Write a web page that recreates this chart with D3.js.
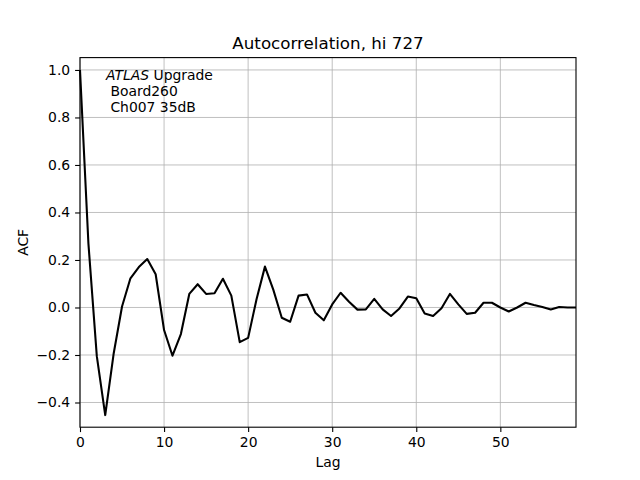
<!DOCTYPE html>
<html>
<head>
<meta charset="utf-8">
<script src="https://cdn.jsdelivr.net/npm/d3@7"></script>
<style>
  body { margin: 0; background: #fff; }
  text { font-family: "DejaVu Sans", sans-serif; }
</style>
</head>
<body>
<div id="chart"></div>
<script>
// ACF values, lag 0..59
const lags = d3.range(0, 60);
const acf = [
  1.0, 0.27, -0.205, -0.453, -0.195, 0.004, 0.123, 0.17, 0.204, 0.14,
  -0.095, -0.203, -0.112, 0.057, 0.098, 0.057, 0.06, 0.121, 0.05, -0.146,
  -0.128, 0.035, 0.172, 0.074, -0.043, -0.06, 0.05, 0.055, -0.022, -0.054,
  0.013, 0.062, 0.024, -0.009, -0.008, 0.036, -0.008, -0.036, -0.004, 0.046,
  0.039, -0.025, -0.036, -0.003, 0.057, 0.013, -0.027, -0.022, 0.02, 0.02,
  0.0, -0.017, 0.0, 0.02, 0.01, 0.002, -0.008, 0.002, 0.0, 0.0
];
const xTicks = [0, 10, 20, 30, 40, 50];
const yTicks = [-0.4, -0.2, 0.0, 0.2, 0.4, 0.6, 0.8, 1.0];

const margin = { top: 57.6, right: 64, bottom: 52.8, left: 80 },
      width = 640 - margin.left - margin.right,
      height = 480 - margin.top - margin.bottom;

const svg = d3.select("#chart")
    .append("svg")
    .attr("width", 640)
    .attr("height", 480);

const g = svg.append("g")
    .attr("transform", `translate(${margin.left},${margin.top})`);

const x = d3.scaleLinear().domain([0, 59]).range([0, width]);
const y = d3.scaleLinear().domain([-0.504, 1.052]).range([height, 0]);

// grid
g.append("g").selectAll("line")
    .data(xTicks)
    .enter().append("line")
    .attr("x1", d => x(d)).attr("x2", d => x(d))
    .attr("y1", 0).attr("y2", height)
    .attr("stroke", "#b0b0b0").attr("stroke-width", 0.8);

g.append("g").selectAll("line")
    .data(yTicks)
    .enter().append("line")
    .attr("y1", d => y(d)).attr("y2", d => y(d))
    .attr("x1", 0).attr("x2", width)
    .attr("stroke", "#b0b0b0").attr("stroke-width", 0.8);

// line
const line = d3.line()
    .x((d, i) => x(lags[i]))
    .y(d => y(d));

g.append("path")
    .datum(acf)
    .attr("fill", "none")
    .attr("stroke", "black")
    .attr("stroke-width", 2.08)
    .attr("stroke-linejoin", "round")
    .attr("d", line);

// axes
const fmt = d => d3.format(".1f")(d).replace("-", "\u2212");

const xAxis = g.append("g")
    .attr("transform", `translate(0,${height})`)
    .call(d3.axisBottom(x).tickValues(xTicks).tickSize(4.9).tickPadding(4.9).tickFormat(d3.format("d")));

const yAxis = g.append("g")
    .call(d3.axisLeft(y).tickValues(yTicks).tickSize(4.9).tickPadding(4.9).tickFormat(fmt));

[xAxis, yAxis].forEach(a => {
    a.select(".domain").remove();
    a.selectAll("text").attr("font-size", 13.9).attr("fill", "black")
        .attr("font-family", "DejaVu Sans, sans-serif");
    a.selectAll("line").attr("stroke", "black").attr("stroke-width", 1.1);
});

// frame
g.append("rect")
    .attr("width", width).attr("height", height)
    .attr("fill", "none").attr("stroke", "black").attr("stroke-width", 1.1);

// labels
svg.append("text")
    .attr("x", margin.left + width / 2).attr("y", 49.3)
    .attr("text-anchor", "middle").attr("font-size", 16.7)
    .text("Autocorrelation, hi 727");

svg.append("text")
    .attr("x", margin.left + width / 2).attr("y", 467)
    .attr("text-anchor", "middle").attr("font-size", 13.9)
    .text("Lag");

svg.append("text")
    .attr("transform", `translate(28,${margin.top + height / 2}) rotate(-90)`)
    .attr("text-anchor", "middle").attr("font-size", 13.9)
    .text("ACF");

// annotation
const note = svg.append("text")
    .attr("x", 106).attr("y", 79.5)
    .attr("font-size", 13.9);
const l1 = note.append("tspan").attr("x", 106);
l1.append("tspan").attr("font-style", "italic").text("ATLAS");
l1.append("tspan").text(" Upgrade");
note.append("tspan").attr("x", 106).attr("dy", 16.4).attr("xml:space", "preserve").text("\u00a0Board260");
note.append("tspan").attr("x", 106).attr("dy", 16.4).text("\u00a0Ch007 35dB");
</script>
</body>
</html>
